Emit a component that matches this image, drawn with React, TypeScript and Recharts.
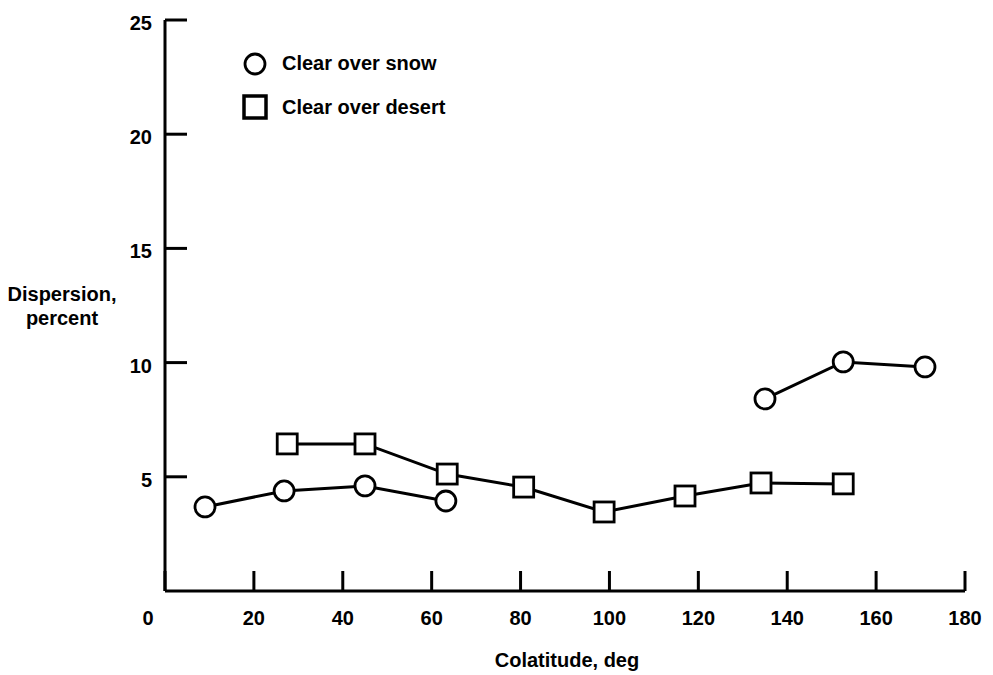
import { LineChart, Line, XAxis, YAxis, Legend } from 'recharts';

const snowX = [9, 26.8, 45, 63.2, 100, 135, 152.6, 171];
const snowY: (number | null)[] = [3.68, 4.38, 4.6, 3.94, null, 8.41, 10.03, 9.81];

const desertX = [27.5, 45, 63.5, 80.7, 98.8, 117, 134.1, 152.6];
const desertY = [6.44, 6.44, 5.12, 4.55, 3.46, 4.16, 4.73, 4.69];

const xTicks = [0, 20, 40, 60, 80, 100, 120, 140, 160, 180];
const yTicks = [5, 10, 15, 20, 25];

const seriesNames = ['Clear over snow', 'Clear over desert'];

const snowData = snowX.map((x, i) => ({ x, y: snowY[i] }));
const desertData = desertX.map((x, i) => ({ x, y: desertY[i] }));

const FONT = '"Liberation Sans", Arial, Helvetica, sans-serif';
const textStyle = { fontFamily: FONT, fontSize: 20, fontWeight: 'bold' as const, fill: '#000' };

const XTick = (props: any) => {
  const { x, y, payload } = props;
  const shift = payload.value === 0 ? -17 : 0;
  return (
    <text x={x + shift} y={y + 15} textAnchor="middle" {...textStyle}>
      {payload.value}
    </text>
  );
};

const YTick = (props: any) => {
  const { x, y, payload } = props;
  return (
    <text x={x} y={y + 10} textAnchor="end" {...textStyle}>
      {payload.value}
    </text>
  );
};

const SquareDot = (props: any) => {
  const { cx, cy, index } = props;
  if (cx == null || cy == null) return <g key={`sq-${index}`} />;
  return (
    <rect
      key={`sq-${index}`}
      x={cx - 10}
      y={cy - 10}
      width={20}
      height={20}
      fill="#fff"
      stroke="#000"
      strokeWidth={2.8}
    />
  );
};

const LegendBox = () => (
  <svg width={230} height={85}>
    <circle cx={20} cy={19} r={10} fill="#fff" stroke="#000" strokeWidth={2.8} />
    <text x={47} y={25} {...textStyle}>{seriesNames[0]}</text>
    <rect x={9} y={51} width={22} height={22} fill="#fff" stroke="#000" strokeWidth={3.5} />
    <text x={47} y={69} {...textStyle}>{seriesNames[1]}</text>
  </svg>
);

export default function App() {
  return (
    <div style={{ position: 'absolute', left: 0, top: 0, background: '#fff' }}>
      <LineChart width={993} height={675} margin={{ top: 20, right: 28, bottom: 0, left: 0 }}>
        <XAxis
          type="number"
          dataKey="x"
          domain={[0, 180]}
          ticks={xTicks}
          interval={0}
          height={84}
          tickSize={-20}
          tickMargin={39}
          tick={<XTick />}
          axisLine={{ stroke: '#000', strokeWidth: 3 }}
          tickLine={{ stroke: '#000', strokeWidth: 3 }}
          allowDuplicatedCategory={false}
          label={{
            content: (p: any) => (
              <text x={p.viewBox.x + p.viewBox.width / 2 + 2} y={667} textAnchor="middle" {...textStyle}>
                Colatitude, deg
              </text>
            ),
          }}
        />
        <YAxis
          type="number"
          domain={[0, 25]}
          ticks={yTicks}
          interval={0}
          width={165}
          tickSize={-22}
          tickMargin={35}
          tick={<YTick />}
          axisLine={{ stroke: '#000', strokeWidth: 3 }}
          tickLine={{ stroke: '#000', strokeWidth: 3 }}
          label={{
            content: () => (
              <text textAnchor="middle" {...textStyle}>
                <tspan x={62} y={301}>Dispersion,</tspan>
                <tspan x={62} y={325}>percent</tspan>
              </text>
            ),
          }}
        />
        <Legend
          layout="horizontal"
          verticalAlign="middle"
          content={<LegendBox />}
          wrapperStyle={{ position: 'absolute', left: 235, top: 45, width: 230, height: 85 }}
        />
        <Line
          data={desertData}
          dataKey="y"
          name={seriesNames[1]}
          stroke="#000"
          strokeWidth={3}
          dot={<SquareDot />}
          activeDot={false}
          isAnimationActive={false}
        />
        <Line
          data={snowData}
          dataKey="y"
          name={seriesNames[0]}
          stroke="#000"
          strokeWidth={3}
          connectNulls={false}
          dot={{ r: 10, fill: '#fff', stroke: '#000', strokeWidth: 2.8 }}
          activeDot={false}
          isAnimationActive={false}
        />
      </LineChart>
    </div>
  );
}
